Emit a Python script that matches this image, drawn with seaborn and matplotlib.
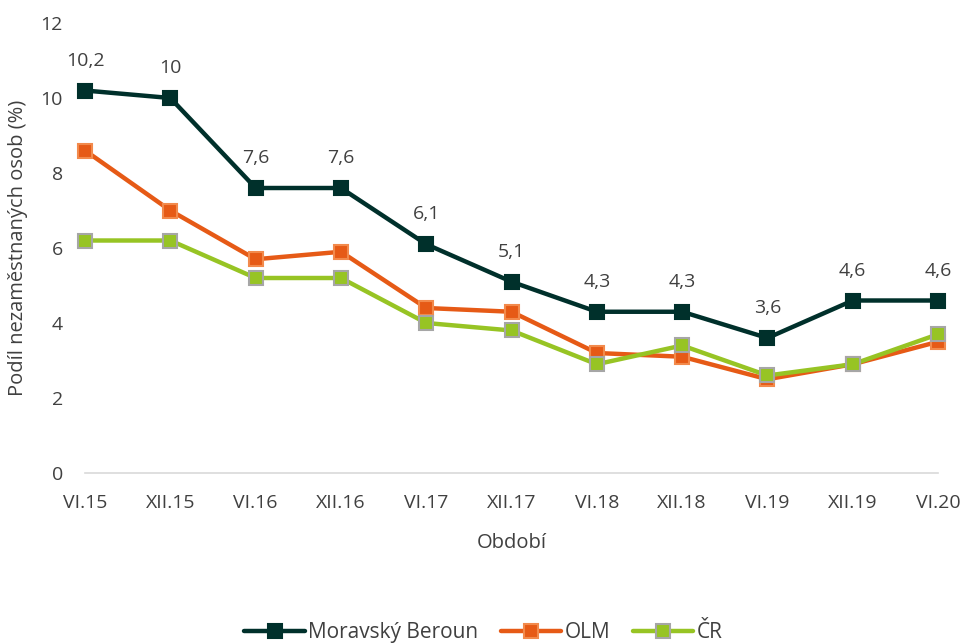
""" unemployment share plot """

import matplotlib.pyplot as plt
import pandas as pd
import seaborn as sns

periods = ["VI.15", "XII.15", "VI.16", "XII.16", "VI.17", "XII.17",
           "VI.18", "XII.18", "VI.19", "XII.19", "VI.20"]
moravsky_beroun = [10.2, 10.0, 7.6, 7.6, 6.1, 5.1, 4.3, 4.3, 3.6, 4.6, 4.6]
olm = [8.6, 7.0, 5.7, 5.9, 4.4, 4.3, 3.2, 3.1, 2.5, 2.9, 3.5]
cr = [6.2, 6.2, 5.2, 5.2, 4.0, 3.8, 2.9, 3.4, 2.6, 2.9, 3.7]
series_names = ["Moravský Beroun", "OLM", "ČR"]

sns.set_style("white")
plt.rcParams["font.family"] = ["Open Sans", "DejaVu Sans"]
text_color = "#404040"

df = pd.DataFrame({
    "Období": periods * 3,
    "pos": list(range(len(periods))) * 3,
    "value": moravsky_beroun + olm + cr,
    "series": [n for n in series_names for _ in periods],
})

colors = {"Moravský Beroun": "#00302b", "OLM": "#e65a16", "ČR": "#97c424"}
edges = {"Moravský Beroun": "#00302b", "OLM": "#f28a4c", "ČR": "#a6a6a6"}

fig = plt.figure(figsize=(9.63, 6.43), dpi=100)
ax = fig.add_axes([0.0883, 0.2644, 0.8858, 0.6998])

# draw series one by one so olm/cr markers get their own edge colour
for name in series_names:
    sub = df[df["series"] == name]
    sns.lineplot(data=sub, x="pos", y="value", ax=ax, color=colors[name],
                 linewidth=3.2, marker="s", markersize=10,
                 markerfacecolor=colors[name], markeredgecolor=edges[name],
                 markeredgewidth=1.5, label=name, clip_on=False)

for i, v in enumerate(moravsky_beroun):
    ax.annotate(f"{v:g}".replace(".", ","), (i, v), xytext=(0, 15),
                textcoords="offset points", ha="center", va="bottom",
                fontsize=14, color=text_color)

ax.set_xlim(0, len(periods) - 1)
ax.set_ylim(0, 12)
ax.set_xticks(range(len(periods)))
ax.set_xticklabels(periods)
ax.set_yticks(range(0, 13, 2))
ax.tick_params(axis="x", length=7, color="#d9d9d9", width=1.2,
               labelsize=14, labelcolor=text_color, pad=8)
ax.tick_params(axis="y", length=0, labelsize=14, labelcolor=text_color,
               pad=16)
for side in ["top", "right", "left"]:
    ax.spines[side].set_visible(False)
ax.spines["bottom"].set_color("#d9d9d9")
ax.spines["bottom"].set_linewidth(1.2)

ax.set_xlabel("Období", fontsize=14.5, color=text_color, labelpad=15)
ax.set_ylabel("Podíl nezaměstnaných osob (%)", fontsize=14.5,
              color=text_color, labelpad=9)

ax.legend(loc="lower center", bbox_to_anchor=(0.467, -0.42), ncol=3,
          frameon=False, fontsize=15, handlelength=2.9, columnspacing=1.1,
          handletextpad=0.15, labelcolor=text_color)

fig.savefig("out.png", dpi=100)
